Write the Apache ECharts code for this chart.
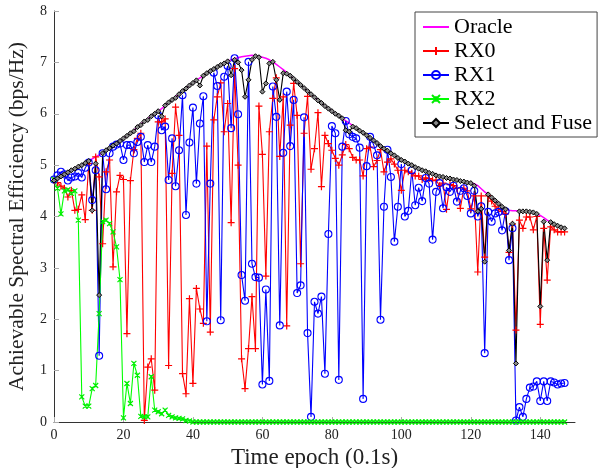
<!DOCTYPE html>
<html>
<head>
<meta charset="utf-8">
<script src="https://cdn.jsdelivr.net/npm/echarts@6/dist/echarts.min.js"></script>
<style>
html,body{margin:0;padding:0;background:#fff;}
#chart{width:598px;height:468px;}
</style>
</head>
<body>
<div id="chart"></div>
<script>
// Time epochs are the array positions 0..147
const xTicks = [0, 20, 40, 60, 80, 100, 120, 140];
const yTicks = [0, 1, 2, 3, 4, 5, 6, 7, 8];

const oracle = [
4.70,4.74,4.78,4.82,4.86,4.90,4.93,4.97,5.00,5.04,
5.08,5.12,5.16,5.20,5.25,5.29,5.33,5.38,5.42,5.47,
5.52,5.57,5.62,5.68,5.74,5.80,5.85,5.90,5.95,6.00,
6.05,6.10,6.16,6.22,6.27,6.33,6.38,6.44,6.49,6.55,
6.60,6.65,6.70,6.74,6.79,6.83,6.87,6.91,6.95,6.98,
7.02,7.05,7.07,7.09,7.11,7.12,7.13,7.14,7.13,7.12,
7.10,7.08,7.05,7.01,6.96,6.91,6.86,6.80,6.74,6.68,
6.62,6.56,6.50,6.44,6.38,6.32,6.26,6.21,6.15,6.10,
6.05,6.00,5.96,5.91,5.86,5.82,5.77,5.72,5.67,5.63,
5.58,5.53,5.48,5.43,5.37,5.32,5.28,5.23,5.19,5.14,
5.10,5.07,5.03,5.00,4.96,4.93,4.90,4.88,4.85,4.83,
4.80,4.78,4.77,4.75,4.74,4.72,4.71,4.69,4.68,4.66,
4.65,4.64,4.60,4.54,4.48,4.43,4.37,4.31,4.25,4.19,
4.14,4.12,4.11,4.11,4.10,4.10,4.10,4.09,4.08,4.05,
4.02,3.98,3.93,3.89,3.85,3.82,3.79,3.77];

const rx0 = [
4.70,4.66,4.59,4.55,4.38,4.51,4.12,4.14,4.42,3.94,
5.03,4.12,5.16,4.77,3.47,4.87,5.10,3.02,4.48,4.80,
4.72,1.72,4.70,5.30,5.52,5.62,0.03,1.07,1.23,0.62,
5.84,5.84,5.90,1.10,4.84,6.13,5.58,0.94,0.55,2.40,
0.75,2.60,2.20,1.92,5.37,1.75,5.88,6.33,6.60,5.65,
6.20,3.88,6.88,5.00,1.23,0.65,1.43,2.44,1.43,6.15,
5.21,2.84,5.65,6.30,6.70,5.17,6.33,1.87,5.78,6.59,
5.97,3.08,5.62,6.34,4.92,5.32,6.02,4.58,5.58,5.42,
5.29,5.13,5.00,5.20,5.40,5.32,5.15,5.10,5.10,4.79,
5.32,5.35,4.97,5.09,5.30,4.87,5.06,5.12,5.02,4.90,
4.51,4.90,4.87,4.84,4.79,4.79,4.72,4.75,4.74,4.70,
4.71,4.60,4.65,4.14,4.62,4.60,4.55,4.16,4.55,4.50,
4.15,4.40,2.92,4.40,3.21,4.40,4.30,4.20,4.15,4.10,
4.05,3.30,3.85,1.79,3.93,3.77,3.99,3.99,3.74,4.00,
1.90,3.77,2.76,3.80,3.74,3.70,3.70,3.70];

const rx1 = [
4.72,4.80,4.87,4.82,4.70,4.76,4.78,4.85,4.76,4.95,
5.05,4.32,4.90,1.29,5.23,4.53,5.23,5.36,5.40,5.42,
5.10,5.39,5.39,5.23,5.45,5.55,5.06,5.39,5.06,5.36,
5.97,5.68,5.75,4.71,5.52,4.59,5.29,6.36,4.03,5.44,
6.12,4.64,5.81,6.34,1.96,4.64,6.80,6.54,1.98,6.72,
6.93,5.72,7.08,5.99,2.86,2.36,7.01,3.08,2.82,2.81,
0.73,2.58,0.80,6.53,5.94,1.88,5.24,6.43,5.37,6.27,
2.51,2.66,5.93,1.73,0.10,2.34,2.11,2.44,0.94,3.66,
5.76,5.62,0.82,5.36,5.86,5.60,5.55,5.52,5.34,0.45,
4.98,5.55,5.40,5.19,1.99,4.19,5.30,4.77,3.51,4.19,
5.02,4.00,4.11,4.90,4.22,4.56,4.30,4.75,4.64,3.55,
4.48,4.65,4.16,4.57,4.48,4.60,4.29,4.50,4.55,4.40,
4.06,4.50,4.00,4.20,1.34,4.09,3.90,4.06,4.09,3.73,
4.10,3.15,3.77,0.03,0.29,0.10,0.45,0.67,0.69,0.79,
0.41,0.79,0.41,0.79,0.77,0.73,0.75,0.76];

const rx2 = [
4.72,4.55,4.05,4.50,4.52,4.45,4.50,3.93,0.49,0.31,
0.31,0.65,0.71,2.11,3.90,3.93,3.86,3.70,3.41,2.77,
0.08,0.75,0.36,1.14,0.91,0.11,0.10,0.10,0.88,0.23,
0.20,0.16,0.23,0.13,0.10,0.08,0.07,0.06,0.03,0.02,
0,0,0,0,0,0,0,0,0,0,
0,0,0,0,0,0,0,0,0,0,
0,0,0,0,0,0,0,0,0,0,
0,0,0,0,0,0,0,0,0,0,
0,0,0,0,0,0,0,0,0,0,
0,0,0,0,0,0,0,0,0,0,
0,0,0,0,0,0,0,0,0,0,
0,0,0,0,0,0,0,0,0,0,
0,0,0,0,0,0,0,0,0,0,
0,0,0,0,0,0,0,0,0,0,
0,0,0,0,0,0,0,0];

const fuse = [
4.70,4.74,4.78,4.82,4.86,4.90,4.93,4.97,5.00,5.04,
5.08,4.12,5.03,2.47,5.23,5.29,5.33,5.38,5.42,5.47,
5.52,5.57,5.62,5.66,5.74,5.78,5.85,5.88,5.95,6.00,
6.05,5.95,6.16,6.22,6.27,6.31,6.38,6.44,6.49,6.55,
6.60,6.65,6.55,6.74,6.79,6.83,6.87,6.91,6.95,6.98,
7.02,6.75,7.05,7.00,6.85,6.33,6.66,7.05,7.12,7.10,
6.43,6.59,6.98,7.01,6.66,6.27,6.79,6.78,6.74,6.68,
6.62,6.56,6.50,6.44,6.38,6.32,6.26,6.21,6.15,6.10,
6.05,6.00,5.96,5.91,5.68,5.65,5.75,5.72,5.67,5.63,
5.58,5.53,5.48,5.43,5.37,5.32,5.28,5.23,5.19,5.14,
5.10,5.07,5.03,5.00,4.96,4.93,4.90,4.88,4.85,4.83,
4.80,4.78,4.77,4.75,4.74,4.72,4.71,4.69,4.68,4.66,
4.65,4.60,4.10,4.15,3.12,4.43,4.37,4.31,4.25,4.19,
4.14,3.34,3.86,1.14,4.10,4.10,4.10,4.09,4.08,4.05,
2.25,3.90,3.15,3.89,3.85,3.82,3.79,3.77];

function pairs(arr){ return arr.map((v,i)=>[i,v]); }

const FONT = 'Liberation Serif';
const PLUS = 'path://M5,0L5,10M0,5L10,5';
const CROSS = 'path://M0,0L10,10M10,0L0,10M5,1.5L5,8.5';
const DIAM = 'path://M5,0L10,5L5,10L0,5Z';
const LINEICON = 'path://M0,0L26,0L26,2L0,2Z';

const chart = echarts.init(document.getElementById('chart'), null, {renderer:'canvas'});
chart.setOption({
  animation:false,
  backgroundColor:'#fff',
  grid:{left:54, right:23, top:11, bottom:46, containLabel:false, outerBoundsMode:'none'},
  legend:{
    orient:'vertical', left:415, top:12,
    backgroundColor:'#fff', borderColor:'#444', borderWidth:1, borderRadius:0,
    padding:[4,5,3,7], itemGap:2, itemWidth:26, itemHeight:10,
    textStyle:{fontFamily:FONT, fontSize:22, color:'#000', lineHeight:22},
    data:[{name:'Oracle', icon:LINEICON, itemStyle:{color:'#ff00ff'}},'RX0','RX1','RX2','Select and Fuse']
  },
  xAxis:{
    type:'value', min:0, max:150, interval:20,
    name:'Time epoch (0.1s)', nameLocation:'middle', nameGap:22,
    nameTextStyle:{fontFamily:FONT, fontSize:23, color:'#222'},
    axisLine:{show:true, onZero:false, lineStyle:{color:'#333', width:1}},
    axisTick:{show:true, inside:true, length:5, customValues:xTicks, lineStyle:{color:'#aaa'}},
    axisLabel:{fontFamily:FONT, fontSize:14, color:'#222', margin:6, customValues:xTicks},
    splitLine:{show:false}
  },
  yAxis:{
    type:'value', min:0, max:8, interval:1,
    name:'Achievable Spectral Efficiency (bps/Hz)', nameLocation:'middle', nameGap:26,
    nameTextStyle:{fontFamily:FONT, fontSize:21.5, color:'#222'},
    axisLine:{show:true, onZero:false, lineStyle:{color:'#333', width:1}},
    axisTick:{show:true, inside:true, length:5, customValues:yTicks, lineStyle:{color:'#aaa'}},
    axisLabel:{fontFamily:FONT, fontSize:14, color:'#222', margin:7, customValues:yTicks},
    splitLine:{show:false}
  },
  series:[
    {name:'Oracle', type:'line', data:pairs(oracle), symbol:'none',
     lineStyle:{color:'#ff00ff', width:1.5}, itemStyle:{color:'#ff00ff'}},
    {name:'RX0', type:'line', data:pairs(rx0), symbol:PLUS, symbolSize:7, showAllSymbol:true,
     lineStyle:{color:'#ff0000', width:1.1},
     itemStyle:{color:'rgba(0,0,0,0)', borderColor:'#ff0000', borderWidth:1.2}},
    {name:'RX1', type:'line', data:pairs(rx1), symbol:'circle', symbolSize:7, showAllSymbol:true,
     lineStyle:{color:'#0000ff', width:1.1},
     itemStyle:{color:'rgba(0,0,0,0)', borderColor:'#0000ff', borderWidth:1.1}},
    {name:'RX2', type:'line', data:pairs(rx2), symbol:CROSS, symbolSize:5, showAllSymbol:true,
     lineStyle:{color:'#00ff00', width:1.1},
     itemStyle:{color:'rgba(0,0,0,0)', borderColor:'#00ee00', borderWidth:1.2}},
    {name:'Select and Fuse', type:'line', data:pairs(fuse), symbol:DIAM, symbolSize:5, showAllSymbol:true,
     lineStyle:{color:'#000000', width:1.1},
     itemStyle:{color:'#888', borderColor:'#000', borderWidth:1}}
  ]
});
</script>
</body>
</html>
